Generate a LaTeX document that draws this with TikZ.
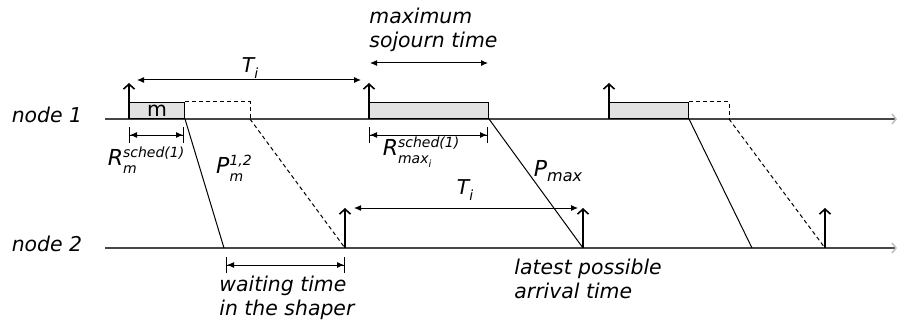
\documentclass[tikz,border=0pt]{standalone}
\usepackage{fontspec}
\setmainfont{DejaVu Sans}
\usetikzlibrary{arrows.meta}
\definecolor{boxgray}{RGB}{226,226,226}
\definecolor{axisgray}{RGB}{70,70,70}

% base letter with a superscript over a subscript
\newcommand{\supsub}[3]{{\fontsize{11}{13}\selectfont #1}\raisebox{-0.7ex}{\scriptsize\renewcommand{\arraystretch}{1.0}\begin{tabular}[b]{@{}l@{}}#2\\#3\end{tabular}}}

\begin{document}
\begin{tikzpicture}[x=0.5pt, y=-0.5pt,
    font=\fontsize{10.2}{12}\selectfont\itshape,
    axis/.style={axisgray, line width=0.8pt, -{Straight Barb[length=2pt,width=5pt,color=gray!50]}},
    msgbox/.style={draw=black, fill=boxgray, line width=0.5pt, inner sep=0pt, minimum height=8pt, anchor=south west},
    release/.style={line width=0.8pt, -{Straight Barb[length=2.5pt,width=5.5pt]}},
    hop/.style={line width=0.5pt},
    shaped/.style={line width=0.5pt, dash pattern=on 2pt off 1.5pt},
    span/.style={line width=0.5pt, {Latex[length=3.5pt,width=3pt]}-{Latex[length=3.5pt,width=3pt]}},
    tickspan/.style={line width=0.5pt, {Bar[width=8pt]Latex[length=3.5pt,width=3pt]}-{Latex[length=3.5pt,width=3pt]Bar[width=8pt]}},
    lbl/.style={inner sep=0pt}]

    \useasboundingbox (0,0) rectangle (898,326);

    % Time lines
    \node[lbl] (n1) at (47,115) {node 1};
    \node[lbl] (n2) at (47,244) {node 2};
    \coordinate (t1s) at (105,119); \coordinate (t1e) at (897,119);
    \coordinate (t2s) at (105,248); \coordinate (t2e) at (897,248);
    \draw[axis] (t1s) -- (t1e);
    \draw[axis] (t2s) -- (t2e);

    % Frames sent by node 1
    \foreach \i/\x/\w in {1/129/27.5, 2/369/59.5, 3/609/39.5}
        \node[msgbox, minimum width=\w pt] (m\i) at (\x,119) {};
    \node[lbl, font=\fontsize{10.2}{12}\selectfont\upshape] at (m1) {m};
    \foreach \i in {1,2,3}
        \draw[release] (m\i.south west) -- ++(0,-36);

    % Shaper delay (dashed)
    \coordinate (s1) at (250,119);
    \coordinate (s3) at (729,119);
    \draw[shaped] (m1.north east) -| (s1);
    \draw[shaped] (m3.north east) -| (s3);

    % Arrivals at node 2
    \coordinate (h1) at (224,248);
    \coordinate (h3) at (752,248);
    \coordinate (r1) at (345,248);
    \coordinate (r2) at (583,248);
    \coordinate (r3) at (825,248);
    \draw[hop] (m1.south east) -- (h1);
    \draw[hop] (m2.south east) -- (r2);
    \draw[hop] (m3.south east) -- (h3);
    \draw[shaped] (s1) -- (r1);
    \draw[shaped] (s3) -- (r3);
    \foreach \r in {r1,r2,r3}
        \draw[release] (\r) -- ++(0,-40);

    % Periods
    \coordinate (pa) at (137,80); \coordinate (pb) at (361,80);
    \draw[span] (pa) -- (pb);
    \node[lbl] (ti1) at (250,68) {T\raisebox{-0.6ex}{\scriptsize i}};
    \coordinate (qa) at (354,208); \coordinate (qb) at (578,208);
    \draw[span] (qa) -- (qb);
    \node[lbl] (ti2) at (465,190) {T\raisebox{-0.6ex}{\scriptsize i}};

    % Maximum sojourn time
    \coordinate (ja) at (370,63); \coordinate (jb) at (488,63);
    \draw[span] (ja) -- (jb);
    \node[lbl, anchor=west, align=left] (soj) at (369,30) {maximum\\sojourn time};

    % Scheduling delays on node 1
    \coordinate (ra) at (129,135); \coordinate (rb) at (184,135);
    \draw[tickspan] (ra) -- (rb);
    \node[lbl] (rm) at (146,162) {\supsub{R}{sched(1)}{m}};
    \coordinate (rc) at (369,135); \coordinate (rd) at (488,135);
    \draw[tickspan] (rc) -- (rd);
    \node[lbl] (rmax) at (421,152) {\supsub{R}{sched(1)}{max\raisebox{-0.5ex}{\tiny i}}};

    % Propagation delays
    \node[lbl] (pm) at (234,170) {\supsub{P}{1,2}{m}};
    \node[lbl] (pmax) at (558,171) {{\fontsize{11}{13}\selectfont P}\raisebox{-0.5ex}{\footnotesize max}};

    % Waiting time in the shaper
    \coordinate (wa) at (226,265); \coordinate (wb) at (345,265);
    \draw[tickspan] (wa) -- (wb);
    \node[lbl, anchor=west, align=left] (wait) at (219,298) {waiting time\\in the shaper};

    \node[lbl, anchor=west, align=left] (late) at (514,279) {latest possible\\arrival time};
\end{tikzpicture}
\end{document}
